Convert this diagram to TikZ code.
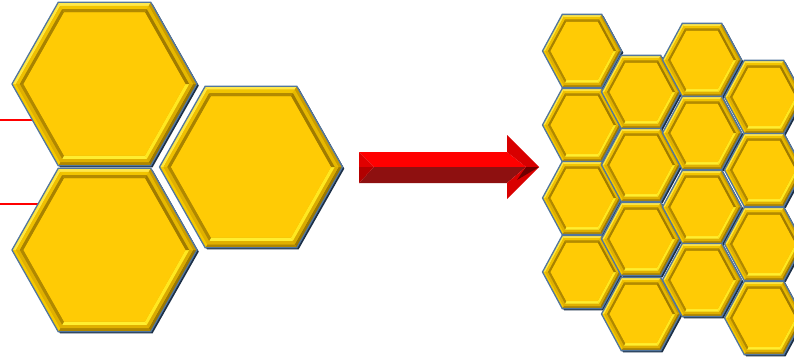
\documentclass[tikz,border=0pt]{standalone}
\definecolor{cellfill}{HTML}{FFCB05}
\definecolor{celledge}{HTML}{52769E}
\definecolor{cellshadow}{HTML}{1B2F47}
\definecolor{bandbase}{HTML}{E0B000}
% bevel band colours: outer / middle / inner stripe for each side
\definecolor{bevLRo}{HTML}{9C7800}\definecolor{bevLRm}{HTML}{D9AA00}\definecolor{bevLRi}{HTML}{FFE820}
\definecolor{bevBo}{HTML}{B08700}\definecolor{bevBm}{HTML}{E0B000}\definecolor{bevBi}{HTML}{FFEE30}
\definecolor{bevLLo}{HTML}{F5C800}\definecolor{bevLLm}{HTML}{E0B000}\definecolor{bevLLi}{HTML}{B08800}
\definecolor{bevULo}{HTML}{FFE640}\definecolor{bevULm}{HTML}{EFC000}\definecolor{bevULi}{HTML}{A88200}
\definecolor{bevTo}{HTML}{FFE84D}\definecolor{bevTm}{HTML}{F2C400}\definecolor{bevTi}{HTML}{B38A00}
\definecolor{bevURo}{HTML}{C99C00}\definecolor{bevURm}{HTML}{E6B800}\definecolor{bevURi}{HTML}{A07B00}
\definecolor{arrowlit}{HTML}{FF0000}
\definecolor{arrowdark}{HTML}{8E1010}
\definecolor{arrowmid}{HTML}{D80000}
\definecolor{arrowdeep}{HTML}{6E0000}

% one bevelled honeycomb cell: centre x, centre y, radius, bevel width, y-stretch
\newcommand\honeycell[5]{%
  \begin{scope}[shift={(#1,#2)},yscale=#5]
    \pgfmathsetmacro\hxo{#3}%
    \pgfmathsetmacro\hxp{#3-0.40*#4}%
    \pgfmathsetmacro\hxq{#3-0.78*#4}%
    \pgfmathsetmacro\hxi{#3-1.155*#4}%
    \fill[cellshadow] ([shift={(1.8,1.6)}]0:\hxo)
      \foreach \a in {60,120,...,300}{ -- ([shift={(1.8,1.6)}]\a:\hxo)} -- cycle;
    \fill[bandbase] (0:\hxo) \foreach \a in {60,120,...,300}{ -- (\a:\hxo)} -- cycle;
    \foreach \k/\co/\cm/\ci in {0/bevLRo/bevLRm/bevLRi,1/bevBo/bevBm/bevBi,
                                2/bevLLo/bevLLm/bevLLi,3/bevULo/bevULm/bevULi,
                                4/bevTo/bevTm/bevTi,5/bevURo/bevURm/bevURi}{
      \pgfmathsetmacro\hxa{60*\k}\pgfmathsetmacro\hxb{60*\k+60}
      \fill[\co] (\hxa:\hxo) -- (\hxb:\hxo) -- (\hxb:\hxp) -- (\hxa:\hxp) -- cycle;
      \fill[\cm] (\hxa:\hxp) -- (\hxb:\hxp) -- (\hxb:\hxq) -- (\hxa:\hxq) -- cycle;
      \fill[\ci] (\hxa:\hxq) -- (\hxb:\hxq) -- (\hxb:\hxi) -- (\hxa:\hxi) -- cycle;
    }
    \fill[cellfill] (0:\hxi) \foreach \a in {60,120,...,300}{ -- (\a:\hxi)} -- cycle;
    \draw[celledge,line width=1.3pt,line join=miter]
      (0:\hxo) \foreach \a in {60,120,...,300}{ -- (\a:\hxo)} -- cycle;
  \end{scope}}

\begin{document}
\begin{tikzpicture}[x=1pt,y=-1pt,
    redrule/.style={draw=red,line width=1.1pt}]
  \useasboundingbox[fill=white] (0,0) rectangle (794,359);

  % red rules entering from the left
  \coordinate (r1a) at (0,120);  \coordinate (r1b) at (40,120);
  \coordinate (r2a) at (0,204);  \coordinate (r2b) at (45,204);
  \draw[redrule] (r1a) -- (r1b);
  \draw[redrule] (r2a) -- (r2b);

  % three large cells
  \honeycell{104.5}{84}{92.5}{10}{1.02}
  \honeycell{251}{167}{91.5}{10}{1.02}
  \honeycell{104.5}{250}{92.5}{10}{1.02}

  % bevelled block arrow
  \coordinate (aA) at (359,152); \coordinate (aB) at (507,152);
  \coordinate (aC) at (507,135); \coordinate (aD) at (539,167);
  \coordinate (aE) at (507,199); \coordinate (aF) at (507,183);
  \coordinate (aG) at (359,183); \coordinate (aM) at (359,167);
  \coordinate (aL) at (374,167); \coordinate (aT) at (526,167);
  \fill[arrowlit] (aA) -- (aB) -- (aT) -- (aL) -- cycle;
  \fill[arrowdark] (aL) -- (aT) -- (aF) -- (aG) -- cycle;
  \fill[arrowmid] (aB) -- (aC) -- (aD) -- (aT) -- cycle;
  \fill[arrowlit!85!black] (aF) -- (aT) -- (aD) -- (aE) -- cycle;
  \fill[arrowdeep] (aT) -- (aD) -- (517,180) -- cycle;
  \fill[arrowlit!88!black] (aA) -- (aL) -- (aM) -- cycle;
  \fill[arrowlit!70!black] (aM) -- (aL) -- (aG) -- cycle;

  % small cells, column by column
  \foreach \cx/\cy in {582/51,582/125,582/198,582/272,
                       641/92,641/165,641/239,641/314,
                       702/60,702/133,702/207,702/280,
                       764/97,764/170,764/244,764/318}{
    \honeycell{\cx}{\cy}{39.5}{7}{1.07}
  }
\end{tikzpicture}
\end{document}
